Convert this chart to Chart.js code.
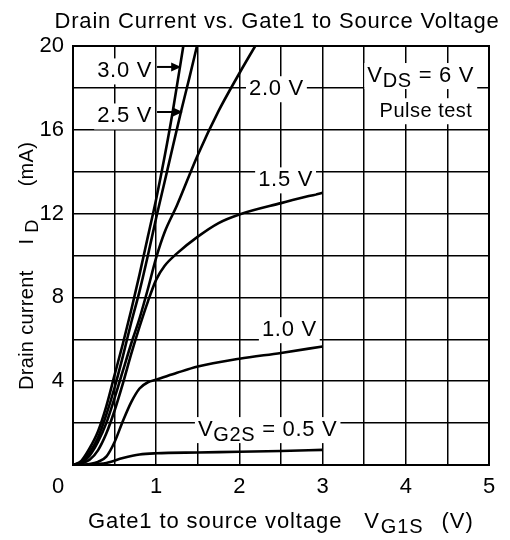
<!DOCTYPE html>
<html>
<head>
<meta charset="utf-8">
<script src="https://cdn.jsdelivr.net/npm/chart.js@4/dist/chart.umd.min.js"></script>
<style>
    body { margin: 0; background: #fff; }
    canvas { display: block; }
</style>
</head>
<body>
<canvas id="idChart" width="510" height="540"></canvas>
<script>
// Drain current ID (mA) vs gate1-source voltage VG1S (V), one curve per VG2S
const vgs05 = [0, 0.2, 0.4, 0.6, 0.8, 1.0, 1.5, 2.0, 2.5, 3.0];
const id05 = [0, 0.02, 0.1, 0.33, 0.5, 0.56, 0.6, 0.63, 0.67, 0.72];

const vgs10 = [0, 0.2, 0.3, 0.4, 0.5, 0.6, 0.7, 0.8, 0.9, 1.0, 1.25, 1.5, 2.0, 2.5, 3.0];
const id10 = [0, 0.05, 0.15, 0.4, 1.1, 2.1, 3.0, 3.65, 3.95, 4.07, 4.4, 4.7, 5.07, 5.35, 5.66];

const vgs15 = [0, 0.1, 0.2, 0.3, 0.4, 0.5, 0.6, 0.7, 0.8, 0.9, 1.0, 1.1, 1.25, 1.5, 1.75, 2.0, 2.5, 3.0];
const id15 = [0, 0.08, 0.25, 0.7, 1.5, 2.6, 3.9, 5.3, 6.6, 7.8, 8.85, 9.5, 10.1, 10.9, 11.55, 11.96, 12.5, 13.0];

const vgs20 = [0, 0.1, 0.2, 0.3, 0.4, 0.5, 0.6, 0.7, 0.8, 0.9, 1.0, 1.1, 1.25, 1.5, 1.75, 2.0, 2.19];
const id20 = [0, 0.1, 0.45, 1.1, 2.0, 3.2, 4.5, 5.8, 7.0, 8.4, 9.9, 11.1, 12.4, 14.8, 16.9, 18.7, 20];

const vgs25 = [0, 0.1, 0.2, 0.3, 0.4, 0.5, 0.6, 0.7, 0.8, 0.9, 1.0, 1.1, 1.2, 1.3, 1.4, 1.49];
const id25 = [0, 0.15, 0.6, 1.3, 2.4, 3.7, 5.2, 6.8, 8.3, 10.0, 11.8, 13.5, 15.2, 16.9, 18.5, 20];

const vgs30 = [0, 0.1, 0.2, 0.3, 0.4, 0.5, 0.6, 0.7, 0.8, 0.9, 1.0, 1.1, 1.2, 1.326];
const id30 = [0, 0.2, 0.8, 1.6, 2.8, 4.3, 5.8, 7.4, 9.1, 10.9, 12.7, 14.7, 16.9, 20];

const seriesNames = ['0.5 V', '1.0 V', '1.5 V', '2.0 V', '2.5 V', '3.0 V'];

// Axis ranges and tick labels
const xMin = 0, xMax = 5, xStep = 0.5;
const yMin = 0, yMax = 20, yStep = 2;
const xTickLabels = ['1', '2', '3', '4', '5'];
const yTickLabels = ['4', '8', '12', '16', '20'];

const FONT = '"Liberation Sans", Arial, Helvetica, sans-serif';

function toPoints(xs, ys) {
    return xs.map((x, i) => ({ x: x, y: ys[i] }));
}

function makeSet(name, xs, ys) {
    return {
        label: name,
        data: toPoints(xs, ys),
        borderColor: '#000',
        borderWidth: 2.6,
        pointRadius: 0,
        fill: false,
        cubicInterpolationMode: 'monotone'
    };
}

// Annotation labels, positioned in data units (x = V, y = mA)
const notes = [
    { parts: [{ t: '3.0 V' }], x: 0.95, y: 18.5, align: 'right' },
    { parts: [{ t: '2.5 V' }], x: 0.95, y: 16.35, align: 'right' },
    { parts: [{ t: '2.0 V' }], x: 2.445, y: 17.65, align: 'center' },
    { parts: [{ t: '1.5 V' }], x: 2.555, y: 13.3, align: 'center' },
    { parts: [{ t: '1.0 V' }], x: 2.6, y: 6.15, align: 'center' },
    { parts: [{ t: 'V' }, { t: 'G2S', sub: true }, { t: ' = 0.5 V' }], x: 2.34, y: 1.38, align: 'center' },
    { parts: [{ t: 'V' }, { t: 'DS', sub: true }, { t: ' = 6 V' }], x: 4.18, y: 18.28, align: 'center' },
    { parts: [{ t: 'Pulse test' }], x: 4.243, y: 16.6, align: 'center', size: 20, spacing: 0.5 }
];

// Arrows pointing at the 3.0 V and 2.5 V curves
const arrows = [
    { x0: 1.01, x1: 1.30, y: 19.0 },
    { x0: 1.01, x1: 1.32, y: 16.85 }
];

// Draw a run of text with optional subscripts and gaps; returns its left/right extents
function drawRich(ctx, parts, x, y, align, size, spacing, measureOnly) {
    const sz = size || 22;
    ctx.letterSpacing = (spacing !== undefined ? spacing : 0.7) + 'px';
    let total = 0;
    parts.forEach(p => {
        ctx.font = (p.sub ? sz - 2 : sz) + 'px ' + FONT;
        p.w = ctx.measureText(p.t).width;
        total += p.w + (p.gap || 0);
    });
    let cx = x;
    if (align === 'center') cx = x - total / 2;
    if (align === 'right') cx = x - total;
    const left = cx;
    if (!measureOnly) {
        ctx.textAlign = 'left';
        ctx.textBaseline = 'alphabetic';
        ctx.fillStyle = '#000';
        parts.forEach(p => {
            cx += p.gap || 0;
            ctx.font = (p.sub ? sz - 2 : sz) + 'px ' + FONT;
            ctx.fillText(p.t, cx, y + (p.sub ? 5 : 0));
            cx += p.w;
        });
    }
    ctx.letterSpacing = '0px';
    return { left: left, right: left + total };
}

const decorPlugin = {
    id: 'decor',
    afterDatasetsDraw(chart) {
        const ctx = chart.ctx;
        const xs = chart.scales.x, ys = chart.scales.y;
        ctx.save();

        // Curve labels with white boxes over the grid
        notes.forEach(n => {
            const px = xs.getPixelForValue(n.x);
            const py = ys.getPixelForValue(n.y);
            const ext = drawRich(ctx, n.parts, px, py, n.align, n.size, n.spacing, true);
            ctx.fillStyle = '#fff';
            ctx.fillRect(ext.left - 3, py - 19, ext.right - ext.left + 6, 26);
            drawRich(ctx, n.parts, px, py, n.align, n.size, n.spacing, false);
        });

        // Arrows
        ctx.strokeStyle = '#000';
        ctx.fillStyle = '#000';
        ctx.lineWidth = 2;
        arrows.forEach(a => {
            const x0 = xs.getPixelForValue(a.x0);
            const x1 = xs.getPixelForValue(a.x1);
            const y = ys.getPixelForValue(a.y);
            ctx.beginPath();
            ctx.moveTo(x0, y);
            ctx.lineTo(x1 - 6, y);
            ctx.stroke();
            ctx.beginPath();
            ctx.moveTo(x1, y);
            ctx.lineTo(x1 - 10, y - 4.5);
            ctx.lineTo(x1 - 10, y + 4.5);
            ctx.closePath();
            ctx.fill();
        });
        ctx.restore();
    },
    afterDraw(chart) {
        const ctx = chart.ctx;
        const area = chart.chartArea;
        ctx.save();

        // Plot frame
        ctx.strokeStyle = '#000';
        ctx.lineWidth = 2;
        ctx.strokeRect(area.left, area.top, area.right - area.left, area.bottom - area.top);

        // Corner zero label
        ctx.fillStyle = '#000';
        ctx.font = '22px ' + FONT;
        ctx.textAlign = 'center';
        ctx.textBaseline = 'alphabetic';
        ctx.fillText('0', area.left - 15, area.bottom + 28);

        // Title
        ctx.letterSpacing = '0.8px';
        ctx.fillText('Drain Current vs. Gate1 to Source Voltage', 277, 28);
        ctx.letterSpacing = '0px';

        // X axis title
        drawRich(ctx, [
            { t: 'Gate1 to source voltage' },
            { t: 'V', gap: 22 },
            { t: 'G1S', sub: true, gap: 1 },
            { t: '(V)', gap: 18 }
        ], area.left + 15, 528, 'left', 22, 0.9, false);

        // Y axis title (rotated)
        ctx.translate(33, 390);
        ctx.rotate(-Math.PI / 2);
        drawRich(ctx, [
            { t: 'Drain current' },
            { t: 'I', gap: 26 },
            { t: 'D', sub: true, gap: 6 },
            { t: '(mA)', gap: 33 }
        ], 0, 0, 'left', 20, 0.3, false);
        ctx.restore();
    }
};

const idChart = new Chart(document.getElementById('idChart'), {
    type: 'line',
    data: {
        datasets: [
            makeSet(seriesNames[0], vgs05, id05),
            makeSet(seriesNames[1], vgs10, id10),
            makeSet(seriesNames[2], vgs15, id15),
            makeSet(seriesNames[3], vgs20, id20),
            makeSet(seriesNames[4], vgs25, id25),
            makeSet(seriesNames[5], vgs30, id30)
        ]
    },
    options: {
        responsive: false,
        animation: false,
        devicePixelRatio: 1,
        layout: { padding: { left: 0, right: 21, top: 46, bottom: 0 } },
        plugins: {
            legend: { display: false },
            tooltip: { enabled: false },
            title: { display: false }
        },
        scales: {
            x: {
                type: 'linear',
                min: xMin,
                max: xMax,
                afterFit: s => { s.height = 75; },
                grid: { color: '#000', lineWidth: 1.5, drawTicks: false },
                border: { display: false },
                ticks: {
                    stepSize: xStep,
                    autoSkip: false,
                    maxRotation: 0,
                    padding: 9,
                    color: '#000',
                    font: { family: FONT, size: 22 },
                    callback: v => xTickLabels.includes(String(v)) ? String(v) : ''
                }
            },
            y: {
                type: 'linear',
                min: yMin,
                max: yMax,
                afterFit: s => { s.width = 73; },
                grid: { color: '#000', lineWidth: 1.5, drawTicks: false },
                border: { display: false },
                ticks: {
                    stepSize: yStep,
                    autoSkip: false,
                    padding: 9,
                    color: '#000',
                    font: { family: FONT, size: 22 },
                    callback: v => yTickLabels.includes(String(v)) ? String(v) : ''
                }
            }
        }
    },
    plugins: [decorPlugin]
});
</script>
</body>
</html>
